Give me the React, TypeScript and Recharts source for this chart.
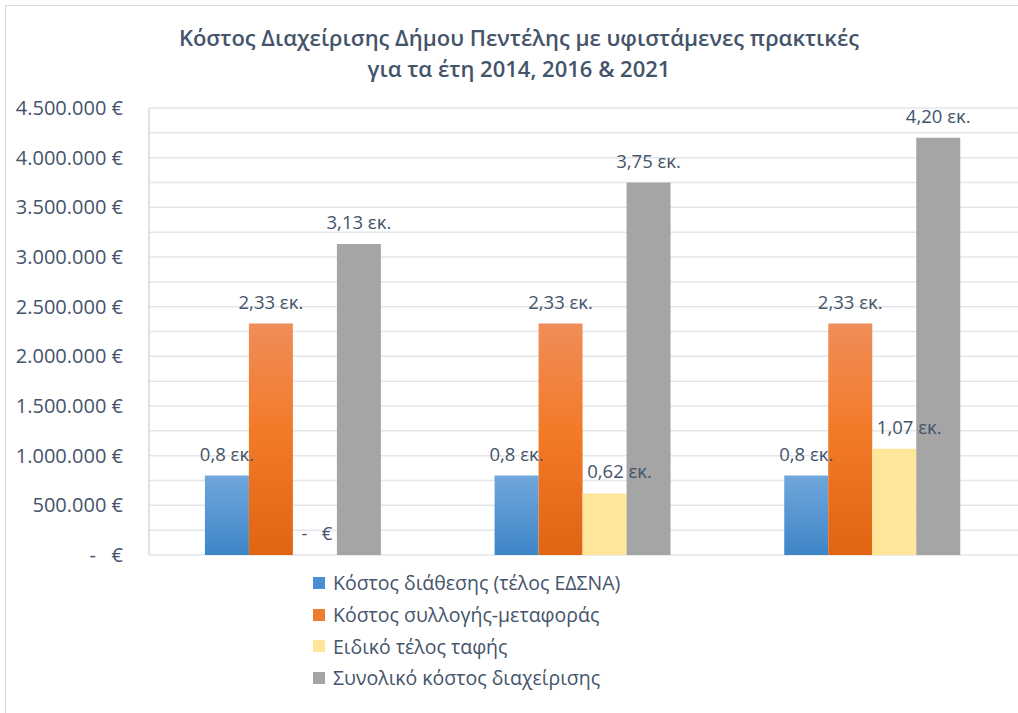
import { BarChart, Bar, XAxis, YAxis, CartesianGrid, LabelList } from 'recharts'

const YEARS = ['2014', '2016', '2021']
const DISPOSAL = [800000, 800000, 800000]
const COLLECTION = [2330000, 2330000, 2330000]
const LANDFILL_FEE = [0, 620000, 1070000]
const TOTAL = [3130000, 3750000, 4200000]

const Y_TICKS = [0, 500000, 1000000, 1500000, 2000000, 2500000, 3000000, 3500000, 4000000, 4500000]
const GRID_VALUES = [
  0, 250000, 500000, 750000, 1000000, 1250000, 1500000, 1750000, 2000000, 2250000,
  2500000, 2750000, 3000000, 3250000, 3500000, 3750000, 4000000, 4250000, 4500000,
]

const SERIES = [
  { key: 'disposal', name: 'Κόστος διάθεσης (τέλος ΕΔΣΝΑ)', fill: 'url(#gBlue)', swatch: '#4a8fd3', decimals: 1, dx: 0 },
  { key: 'collection', name: 'Κόστος συλλογής-μεταφοράς', fill: 'url(#gOrange)', swatch: '#ed7d31', decimals: 2, dx: 0 },
  { key: 'landfill', name: 'Ειδικό τέλος ταφής', fill: '#ffe699', swatch: '#ffe699', decimals: 2, dx: 15 },
  { key: 'total', name: 'Συνολικό κόστος διαχείρισης', fill: '#a5a5a5', swatch: '#a5a5a5', decimals: 2, dx: 0 },
]

const data = YEARS.map((year, i) => ({
  year,
  disposal: DISPOSAL[i],
  collection: COLLECTION[i],
  landfill: LANDFILL_FEE[i],
  total: TOTAL[i],
}))

const TEXT = '#44546a'
const FONT = '"Open Sans", sans-serif'

const euro = (v: number) =>
  v === 0 ? '-\u00a0\u00a0\u00a0€' : String(v).replace(/\B(?=(\d{3})+(?!\d))/g, '.') + ' €'

const millions = (v: number, decimals: number) =>
  v === 0 ? '-\u00a0\u00a0\u00a0€' : (v / 1e6).toFixed(decimals).replace('.', ',') + ' εκ.'

const makeLabel = (decimals: number, dx: number) => (props: any) => {
  const { x, y, width, value } = props
  const v = Number(value)
  return (
    <text
      x={Number(x) + Number(width) / 2 + (v === 0 ? 2 : dx)}
      y={Number(y) - 15}
      textAnchor="middle"
      fill={TEXT}
      fontSize={18.5}
      fontFamily={FONT}
    >
      {millions(v, decimals)}
    </text>
  )
}

export default function App() {
  return (
    <div style={{ position: 'absolute', left: 0, top: 0, width: 1018, height: 713, overflow: 'hidden', background: '#fff' }}>
      <div style={{ position: 'absolute', left: 5, top: 5, width: 1100, height: 800, border: '1.5px solid #d9d9d9' }} />
      <div
        style={{
          position: 'absolute', left: 0, top: 22, width: 1038, textAlign: 'center',
          fontFamily: FONT, fontWeight: 600, fontSize: 22, lineHeight: '31px', color: TEXT,
        }}
      >
        Κόστος Διαχείρισης Δήμου Πεντέλης με υφιστάμενες πρακτικές
        <br />
        για τα έτη 2014, 2016 &amp; 2021
      </div>
      <div style={{ position: 'absolute', left: 0, top: 0 }}>
        <BarChart
          width={1018}
          height={713}
          data={data}
          margin={{ top: 108, right: 0, bottom: 158, left: 9 }}
          barCategoryGap="19.3%"
          barGap={0}
        >
          <defs>
            <linearGradient id="gBlue" x1="0" y1="0" x2="0" y2="1">
              <stop offset="0%" stopColor="#70a7dc" />
              <stop offset="100%" stopColor="#3e85c7" />
            </linearGradient>
            <linearGradient id="gOrange" x1="0" y1="0" x2="0" y2="1">
              <stop offset="0%" stopColor="#f08d59" />
              <stop offset="45%" stopColor="#f27b2a" />
              <stop offset="100%" stopColor="#e16412" />
            </linearGradient>
          </defs>
          <CartesianGrid vertical={false} stroke="#e4e6ea" strokeWidth={1.5} horizontalValues={GRID_VALUES} />
          <XAxis dataKey="year" hide />
          <YAxis
            width={140}
            domain={[0, 4500000]}
            ticks={Y_TICKS}
            interval={0}
            tickFormatter={euro}
            axisLine={{ stroke: '#d9d9d9', strokeWidth: 1.5 }}
            tickLine={false}
            tickSize={0}
            tickMargin={26}
            tick={{ fill: TEXT, fontSize: 20, fontFamily: FONT }}
          />
          {SERIES.map((s) => (
            <Bar
              key={s.key}
              dataKey={s.key}
              name={s.name}
              fill={s.fill}
              minPointSize={0.01}
              isAnimationActive={false}
            >
              <LabelList dataKey={s.key} content={makeLabel(s.decimals, s.dx)} />
            </Bar>
          ))}
        </BarChart>
      </div>
      <div style={{ position: 'absolute', left: 313, top: 567, fontFamily: FONT, fontSize: 19.5, color: TEXT }}>
        {SERIES.map((s) => (
          <div key={s.key} style={{ display: 'flex', alignItems: 'center', height: 31.7 }}>
            <span style={{ width: 12, height: 12, background: s.swatch, marginRight: 8 }} />
            <span>{s.name}</span>
          </div>
        ))}
      </div>
    </div>
  )
}
